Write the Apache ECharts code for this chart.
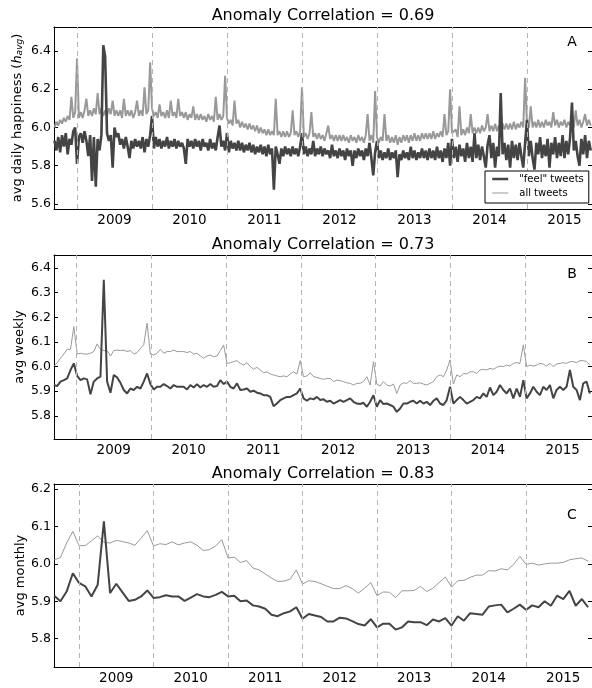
<!DOCTYPE html>
<html><head><meta charset="utf-8">
<script src="https://cdn.jsdelivr.net/npm/echarts@6/dist/echarts.min.js"></script>
<style>html,body{margin:0;padding:0;background:#fff}#c{width:592px;height:688px}</style>
</head><body><div id="c"></div>
<script>
// ---- data ----
const yearLabels = [2009, 2010, 2011, 2012, 2013, 2014, 2015];
const yearBoundaries = [2009, 2010, 2011, 2012, 2013, 2014, 2015];
const correlations = [0.69, 0.73, 0.83];
const seriesNames = ['"feel" tweets', 'all tweets'];

// daily (panel A), sampled every 0.025 year from dailyStart
const dailyStart = 2008.70;
const dailyStep = 0.025;
const dailyFeel = [
5.93,5.88,5.95,5.87,5.96,5.90,5.97,5.86,5.94,5.91,
5.98,6.00,5.81,5.95,5.97,5.92,5.98,5.93,5.85,5.96,
5.72,5.95,5.69,5.94,5.88,5.96,6.43,6.37,5.97,5.93,
5.96,5.79,6.00,5.95,5.97,5.91,5.94,5.89,5.95,5.90,
5.84,5.93,5.89,5.94,5.90,5.93,5.89,5.95,5.87,5.94,
5.90,5.96,6.06,5.89,5.95,5.90,5.94,5.89,5.93,5.90,
5.95,5.89,5.93,5.90,5.94,5.89,5.93,5.90,5.92,5.89,
5.81,5.94,5.90,5.93,5.89,5.94,5.90,5.93,5.88,5.94,
5.90,5.92,5.88,5.94,5.89,5.92,5.88,5.95,6.01,5.90,
5.93,5.88,5.97,5.87,5.93,5.89,5.92,5.88,5.93,5.88,
5.92,5.87,5.91,5.88,5.92,5.87,5.91,5.86,5.90,5.87,
5.91,5.86,5.90,5.85,5.91,5.86,5.89,5.675,5.90,5.86,
5.81,5.89,5.85,5.90,5.86,5.89,5.85,5.90,5.86,5.89,
5.85,5.90,5.97,5.86,5.90,5.85,5.89,5.86,5.93,5.85,
5.89,5.86,5.90,5.85,5.89,5.86,5.88,5.84,5.91,5.85,
5.88,5.84,5.89,5.85,5.88,5.83,5.89,5.85,5.88,5.80,
5.88,5.84,5.89,5.85,5.88,5.83,5.89,5.85,5.92,5.84,
5.75,5.87,5.93,5.84,5.88,5.83,5.87,5.84,5.89,5.83,
5.87,5.84,5.88,5.74,5.86,5.83,5.88,5.84,5.87,5.83,
5.90,5.84,5.88,5.83,5.87,5.84,5.89,5.84,5.88,5.83,
5.89,5.84,5.88,5.83,5.90,5.84,5.88,5.82,5.89,5.84,
5.92,5.80,5.94,5.84,5.90,5.82,5.91,5.85,5.89,5.82,
5.92,5.84,5.90,5.82,5.97,5.84,5.91,5.83,5.90,5.85,
5.79,5.91,5.96,5.84,5.92,5.79,5.90,5.85,6.18,5.86,
5.92,5.83,5.91,5.79,5.93,5.84,5.91,5.83,5.92,5.85,
5.79,5.92,6.04,5.85,5.93,5.84,5.78,5.92,5.86,5.95,
5.84,5.91,5.85,5.94,5.79,5.92,5.86,5.95,5.84,5.92,
5.85,5.96,5.84,5.93,5.86,5.95,6.13,5.88,5.93,5.85,
5.80,5.94,5.86,5.96,5.84,5.93,5.88];
const dailyAll = [
6.00,6.03,6.01,6.04,6.02,6.05,6.03,6.06,6.04,6.16,
6.05,6.08,6.36,6.05,6.08,6.05,6.09,6.15,6.06,6.09,
6.06,6.10,6.07,6.18,6.07,6.10,6.06,6.09,6.06,6.10,
6.07,6.14,6.06,6.09,6.06,6.09,6.05,6.15,6.06,6.09,
6.06,6.09,6.05,6.08,6.14,6.06,6.09,6.06,6.21,6.07,
6.09,6.34,6.10,6.06,6.08,6.05,6.12,6.06,6.08,6.05,
6.09,6.05,6.14,6.06,6.08,6.05,6.15,6.06,6.08,6.05,
6.08,6.04,6.07,6.05,6.11,6.04,6.07,6.04,6.07,6.04,
6.06,6.03,6.07,6.04,6.06,6.03,6.16,6.04,6.07,6.04,
6.06,6.27,6.05,6.02,6.04,6.01,6.14,6.02,6.04,6.00,
6.03,6.00,6.02,5.99,6.02,5.99,6.01,5.98,6.01,5.97,
6.00,5.97,5.99,5.96,5.99,5.96,5.98,5.96,6.15,5.96,
5.98,5.95,5.98,5.95,5.98,5.95,5.97,6.09,5.96,5.98,
5.95,5.98,6.21,5.95,5.97,5.94,5.97,6.08,5.95,5.97,
5.94,5.97,5.94,5.96,5.93,5.97,6.01,5.94,5.96,5.93,
5.96,5.93,5.96,5.93,5.96,5.93,5.95,5.92,5.96,5.93,
5.95,5.92,5.96,5.93,5.95,5.92,5.96,6.07,5.93,5.96,
5.92,6.19,5.95,5.92,5.95,5.93,6.07,5.93,5.96,5.92,
5.95,5.92,5.96,5.91,5.95,5.92,5.96,5.93,5.96,5.92,
5.96,5.93,5.97,5.93,5.96,5.93,5.97,5.94,5.97,5.94,
5.97,5.94,5.98,5.94,5.97,5.95,5.98,5.95,6.07,5.96,
5.98,6.20,5.97,5.96,5.99,5.95,6.11,5.96,5.99,5.96,
6.00,5.97,6.07,5.97,6.00,5.97,6.00,5.97,6.01,5.98,
6.00,6.07,5.98,6.01,5.98,6.02,5.98,6.01,5.98,6.02,
5.99,6.02,5.99,6.02,5.99,6.03,5.99,6.02,6.00,6.03,
6.00,6.26,6.02,6.00,6.11,6.00,6.03,6.00,6.04,6.00,
6.03,6.00,6.04,6.01,6.03,6.00,6.08,6.01,6.04,6.00,
6.03,6.01,6.04,6.00,6.03,6.01,6.04,6.00,6.09,6.01,
6.04,6.00,6.03,6.07,6.01,6.04,6.01];

// weekly (panel B)
const weeklyStart = 2008.70;
const weeklyStep = 0.04449;
const weeklyFeel = [
5.925,5.921,5.939,5.945,5.952,5.986,6.013,5.962,5.945,5.952,
5.948,5.888,5.939,5.952,5.959,6.352,5.939,5.894,5.966,5.956,
5.934,5.905,5.891,5.911,5.905,5.918,5.911,5.939,5.972,5.929,
5.907,5.918,5.918,5.929,5.921,5.911,5.925,5.918,5.918,5.918,
5.907,5.925,5.915,5.929,5.915,5.925,5.918,5.929,5.918,5.921,
5.945,5.929,5.939,5.918,5.911,5.932,5.905,5.907,5.911,5.898,
5.902,5.894,5.891,5.884,5.884,5.877,5.839,5.850,5.864,5.871,
5.877,
5.877,5.884,5.891,5.911,5.871,5.861,5.871,5.867,5.877,5.864,
5.867,5.857,5.861,5.850,5.857,5.864,5.857,5.864,5.871,5.857,
5.850,5.848,5.853,5.837,5.857,5.884,5.837,5.864,5.848,5.850,
5.844,5.837,5.816,5.830,5.850,5.850,5.857,5.861,5.850,5.861,
5.850,5.857,5.844,5.861,5.871,5.850,5.844,5.864,5.918,5.850,
5.864,5.877,5.864,5.850,5.857,5.864,5.877,5.871,5.891,5.877,
5.915,5.884,5.898,5.925,5.905,5.891,5.911,5.871,5.911,5.877,
5.945,5.871,5.891,5.918,5.898,5.884,5.918,5.905,5.925,5.871,
5.905,5.918,5.905,5.918,5.986,5.918,5.905,5.864,5.932,5.939,
5.891];
const weeklyAll = [
6.000,6.016,6.034,6.051,6.070,6.070,6.162,6.051,6.054,6.051,
6.051,6.054,6.061,6.092,6.070,6.065,6.065,6.043,6.065,6.067,
6.065,6.067,6.061,6.065,6.051,6.057,6.074,6.088,6.176,6.051,
6.047,6.054,6.070,6.054,6.061,6.061,6.067,6.061,6.061,6.061,
6.057,6.061,6.051,6.054,6.043,6.034,6.043,6.047,6.040,6.043,
6.065,6.088,6.013,6.016,6.020,6.024,6.013,6.006,6.016,6.000,
5.989,5.997,5.986,5.975,5.979,5.970,5.966,5.962,5.959,5.962,
5.959,
5.970,5.979,5.970,6.024,5.959,5.962,5.975,5.959,5.956,5.952,
5.948,5.952,5.952,5.939,5.945,5.943,5.939,5.934,5.932,5.925,
5.932,5.932,5.939,5.959,5.925,6.020,5.929,5.921,5.939,5.925,
5.921,5.929,5.891,5.925,5.934,5.932,5.943,5.932,5.932,5.934,
5.929,5.925,5.932,5.939,5.959,5.966,5.959,5.986,6.027,5.929,
5.966,5.959,5.972,5.970,5.979,5.979,5.972,5.986,5.989,5.986,
5.993,5.989,5.997,6.002,6.000,6.006,6.002,6.013,6.016,6.013,
6.088,6.000,6.006,6.002,6.006,6.013,6.010,6.002,6.013,6.000,
6.010,6.013,6.016,6.013,6.020,6.020,6.016,6.024,6.024,6.020,
6.006];

// monthly (panel C), Sep 2008 onward
const monthlyStart = 2008.667;
const monthlyStep = 1 / 12;
const monthlyFeel = [
5.915,5.900,5.926,5.975,5.949,5.940,5.913,5.944,6.114,5.922,
5.947,5.924,5.901,5.904,5.913,5.929,5.909,5.911,5.916,5.913,
5.913,5.901,5.910,5.919,5.913,5.911,5.917,5.925,5.913,5.915,
5.900,5.902,5.889,5.886,5.880,5.864,5.860,5.868,5.873,5.884,
5.853,5.866,5.862,5.858,5.846,5.846,5.856,5.854,5.847,5.839,
5.835,5.852,5.830,5.840,5.840,5.824,5.830,5.846,5.844,5.844,
5.836,5.851,5.846,5.855,5.835,5.860,5.848,5.868,5.866,5.864,
5.886,5.889,5.891,5.870,5.880,5.891,5.877,5.889,5.884,5.900,
5.888,5.915,5.906,5.928,5.888,5.906,5.884];
const monthlyAll = [
6.011,6.017,6.056,6.087,6.049,6.049,6.062,6.075,6.058,6.056,
6.063,6.060,6.056,6.050,6.069,6.089,6.048,6.054,6.052,6.059,
6.051,6.056,6.059,6.050,6.036,6.038,6.048,6.065,6.016,6.018,
6.004,6.009,5.989,5.984,5.973,5.962,5.953,5.954,5.959,5.984,
5.946,5.955,5.953,5.947,5.940,5.934,5.934,5.942,5.934,5.922,
5.935,5.950,5.915,5.925,5.924,5.910,5.928,5.928,5.929,5.940,
5.926,5.935,5.950,5.965,5.938,5.955,5.956,5.964,5.970,5.970,
5.982,5.981,5.987,5.984,5.999,6.020,5.999,6.002,5.997,6.000,
6.002,6.002,6.004,6.011,6.014,6.016,6.007];

const yTicksA = [5.6, 5.8, 6.0, 6.2, 6.4];
const yTicksB = [5.8, 5.9, 6.0, 6.1, 6.2, 6.3, 6.4];
const yTicksC = [5.8, 5.9, 6.0, 6.1, 6.2];

// ---- layout / style ----
const FONT = 'DejaVu Sans';
const DARK = '#444444';
const LIGHT = '#999999';
const pairs = (start, step, vals) => vals.map((v, i) => [start + i * step, v]);

const panels = [
  {top: 27, height: 182, x: [2008.693, 2015.867], y: [5.574, 6.525], ticks: yTicksA,
   name: 'avg daily happiness ({it|h}{sub|avg})', gap: 30,
   feel: pairs(dailyStart, dailyStep, dailyFeel), all: pairs(dailyStart, dailyStep, dailyAll),
   wFeel: 2.6, wAll: 2.0, letter: 'A', letterY: 42, titleY: 16, corr: correlations[0]},
  {top: 255, height: 184, x: [2008.702, 2015.891], y: [5.706, 6.453], ticks: yTicksB,
   name: 'avg weekly', gap: 28,
   feel: pairs(weeklyStart, weeklyStep, weeklyFeel), all: pairs(weeklyStart, weeklyStep, weeklyAll),
   wFeel: 2, wAll: 1, letter: 'B', letterY: 274, titleY: 245, corr: correlations[1]},
  {top: 484, height: 183, x: [2008.664, 2015.886], y: [5.724, 6.214], ticks: yTicksC,
   name: 'avg monthly', gap: 27,
   feel: pairs(monthlyStart, monthlyStep, monthlyFeel), all: pairs(monthlyStart, monthlyStep, monthlyAll),
   wFeel: 2, wAll: 1, letter: 'C', letterY: 515, titleY: 474, corr: correlations[2]}
];

const grid = [], xAxis = [], yAxis = [], series = [], graphic = [];
panels.forEach((p, i) => {
  grid.push({left: 54, right: 0, top: p.top, height: p.height, outerBoundsMode: 'none', containLabel: false});
  xAxis.push({type: 'value', gridIndex: i, min: p.x[0], max: p.x[1], position: 'bottom',
    axisLine: {show: true, onZero: false, lineStyle: {color: '#000', width: 1}},
    axisTick: {show: false}, splitLine: {show: false},
    axisLabel: {customValues: yearLabels.map(y => y + 0.5), formatter: v => String(Math.floor(v)),
      fontSize: 13.5, fontFamily: FONT, color: '#000', margin: 4}});
  xAxis.push({type: 'value', gridIndex: i, min: p.x[0], max: p.x[1], position: 'top',
    axisLine: {show: true, onZero: false, lineStyle: {color: '#000', width: 1}},
    axisTick: {show: false}, axisLabel: {show: false}, splitLine: {show: false}});
  yAxis.push({type: 'value', gridIndex: i, min: p.y[0], max: p.y[1], position: 'left',
    axisLine: {show: true, onZero: false, lineStyle: {color: '#000', width: 1}},
    axisTick: {show: true, inside: true, length: 4, customValues: p.ticks, lineStyle: {color: '#000'}},
    axisLabel: {customValues: p.ticks, formatter: v => v.toFixed(1), fontSize: 12.5, fontFamily: FONT, color: '#000', margin: 3},
    splitLine: {show: false},
    name: p.name, nameLocation: 'middle', nameGap: p.gap, nameRotate: 90, nameMoveOverlap: false,
    nameTextStyle: {fontSize: 13, fontFamily: FONT, color: '#000',
      rich: {it: {fontSize: 13, fontStyle: 'italic', fontFamily: FONT, color: '#000'},
             sub: {fontSize: 9, fontStyle: 'italic', fontFamily: FONT, color: '#000', verticalAlign: 'bottom', lineHeight: 13}}}});
  yAxis.push({type: 'value', gridIndex: i, min: p.y[0], max: p.y[1], position: 'right',
    axisLine: {show: false},
    axisTick: {show: true, inside: true, length: 4, customValues: p.ticks, lineStyle: {color: '#000'}},
    axisLabel: {show: false}, splitLine: {show: false}});
  series.push({type: 'line', name: seriesNames[1], xAxisIndex: 2 * i, yAxisIndex: 2 * i,
    data: p.all, showSymbol: false, symbol: 'none', color: LIGHT, silent: true,
    lineStyle: {color: LIGHT, width: p.wAll}, z: 2,
    markLine: {silent: true, symbol: 'none', label: {show: false}, animation: false,
      lineStyle: {color: '#b4b4b4', type: [5, 4], width: 1},
      data: yearBoundaries.map(y => ({xAxis: y}))}});
  series.push({type: 'line', name: seriesNames[0], xAxisIndex: 2 * i, yAxisIndex: 2 * i,
    data: p.feel, showSymbol: false, symbol: 'none', color: DARK, silent: true,
    lineStyle: {color: DARK, width: p.wFeel}, z: 3});
  graphic.push({type: 'text', x: 323, y: p.titleY, silent: true,
    style: {text: 'Anomaly Correlation = ' + p.corr.toFixed(2), textAlign: 'center', textVerticalAlign: 'middle',
      font: '16px "DejaVu Sans"', fill: '#000'}});
  graphic.push({type: 'text', x: 572, y: p.letterY, silent: true,
    style: {text: p.letter, textAlign: 'center', textVerticalAlign: 'middle', font: '14px "DejaVu Sans"', fill: '#000'}});
});

const chart = echarts.init(document.getElementById('c'), null, {renderer: 'canvas'});
chart.setOption({
  animation: false,
  backgroundColor: '#fff',
  grid, xAxis, yAxis, series, graphic,
  legend: {
    data: [{name: seriesNames[0], itemStyle: {opacity: 0}, lineStyle: {width: 2.5, color: DARK}},
           {name: seriesNames[1], itemStyle: {opacity: 0}, lineStyle: {width: 1, color: LIGHT}}],
    orient: 'vertical', left: 485, top: 171, itemWidth: 16, itemHeight: 12, itemGap: 2,
    selectedMode: false, backgroundColor: '#fff', borderColor: '#000', borderWidth: 1, borderRadius: 0,
    padding: [2, 5, 4, 6], z: 10,
    textStyle: {fontSize: 10, lineHeight: 12, fontFamily: FONT, color: '#000', padding: [0, 0, 0, 6]}
  }
});
</script>
</body></html>
